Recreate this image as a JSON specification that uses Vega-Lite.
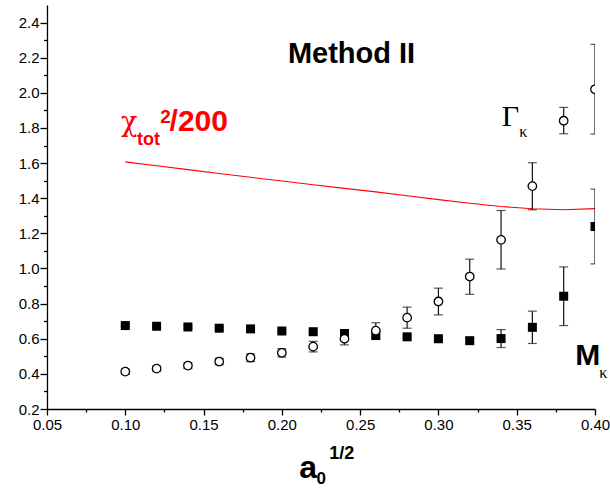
{
  "$schema": "https://vega.github.io/schema/vega-lite/v6.json",
  "width": 548,
  "height": 404,
  "autosize": "none",
  "padding": {"left": 47, "top": 5, "right": 15, "bottom": 79},
  "background": "white",
  "config": {"view": {"stroke": null}},
  "resolve": {"axis": {"x": "independent", "y": "independent"}},
  "datasets": {
    "points": [
      {"x": 0.10, "series": "M", "y": 0.675, "lo": 0.668, "hi": 0.682},
      {"x": 0.12, "series": "M", "y": 0.671, "lo": 0.664, "hi": 0.678},
      {"x": 0.14, "series": "M", "y": 0.667, "lo": 0.660, "hi": 0.674},
      {"x": 0.16, "series": "M", "y": 0.660, "lo": 0.653, "hi": 0.667},
      {"x": 0.18, "series": "M", "y": 0.656, "lo": 0.649, "hi": 0.663},
      {"x": 0.20, "series": "M", "y": 0.644, "lo": 0.637, "hi": 0.651},
      {"x": 0.22, "series": "M", "y": 0.640, "lo": 0.633, "hi": 0.647},
      {"x": 0.24, "series": "M", "y": 0.630, "lo": 0.623, "hi": 0.637},
      {"x": 0.26, "series": "M", "y": 0.618, "lo": 0.611, "hi": 0.625},
      {"x": 0.28, "series": "M", "y": 0.611, "lo": 0.604, "hi": 0.618},
      {"x": 0.30, "series": "M", "y": 0.600, "lo": 0.590, "hi": 0.610},
      {"x": 0.32, "series": "M", "y": 0.589, "lo": 0.578, "hi": 0.600},
      {"x": 0.34, "series": "M", "y": 0.601, "lo": 0.550, "hi": 0.652},
      {"x": 0.36, "series": "M", "y": 0.665, "lo": 0.573, "hi": 0.757},
      {"x": 0.38, "series": "M", "y": 0.842, "lo": 0.675, "hi": 1.009},
      {"x": 0.40, "series": "M", "y": 1.239, "lo": 1.026, "hi": 1.452},
      {"x": 0.10, "series": "Gamma", "y": 0.413, "lo": 0.398, "hi": 0.428},
      {"x": 0.12, "series": "Gamma", "y": 0.430, "lo": 0.415, "hi": 0.445},
      {"x": 0.14, "series": "Gamma", "y": 0.447, "lo": 0.430, "hi": 0.464},
      {"x": 0.16, "series": "Gamma", "y": 0.470, "lo": 0.452, "hi": 0.488},
      {"x": 0.18, "series": "Gamma", "y": 0.492, "lo": 0.470, "hi": 0.514},
      {"x": 0.20, "series": "Gamma", "y": 0.520, "lo": 0.496, "hi": 0.544},
      {"x": 0.22, "series": "Gamma", "y": 0.555, "lo": 0.525, "hi": 0.585},
      {"x": 0.24, "series": "Gamma", "y": 0.600, "lo": 0.565, "hi": 0.635},
      {"x": 0.26, "series": "Gamma", "y": 0.646, "lo": 0.601, "hi": 0.691},
      {"x": 0.28, "series": "Gamma", "y": 0.720, "lo": 0.660, "hi": 0.780},
      {"x": 0.30, "series": "Gamma", "y": 0.812, "lo": 0.736, "hi": 0.888},
      {"x": 0.32, "series": "Gamma", "y": 0.954, "lo": 0.853, "hi": 1.053},
      {"x": 0.34, "series": "Gamma", "y": 1.163, "lo": 0.997, "hi": 1.330},
      {"x": 0.36, "series": "Gamma", "y": 1.469, "lo": 1.334, "hi": 1.602},
      {"x": 0.38, "series": "Gamma", "y": 1.841, "lo": 1.767, "hi": 1.917},
      {"x": 0.40, "series": "Gamma", "y": 2.020, "lo": 1.765, "hi": 2.276}
    ],
    "chi": [
      {"x": 0.10, "y": 1.607},
      {"x": 0.12, "y": 1.585},
      {"x": 0.14, "y": 1.563},
      {"x": 0.16, "y": 1.541},
      {"x": 0.18, "y": 1.519},
      {"x": 0.20, "y": 1.498},
      {"x": 0.22, "y": 1.477},
      {"x": 0.24, "y": 1.456},
      {"x": 0.26, "y": 1.436},
      {"x": 0.28, "y": 1.414},
      {"x": 0.30, "y": 1.392},
      {"x": 0.32, "y": 1.371},
      {"x": 0.34, "y": 1.353},
      {"x": 0.36, "y": 1.340},
      {"x": 0.38, "y": 1.334},
      {"x": 0.40, "y": 1.341}
    ],
    "one": [{}]
  },
  "layer": [
    {
      "data": {"name": "chi"},
      "mark": {"type": "line", "color": "#ff0000", "strokeWidth": 1.1},
      "encoding": {
        "x": {
          "field": "x", "type": "quantitative",
          "scale": {"domain": [0.05, 0.40], "nice": false, "zero": false},
          "axis": {
            "title": null,
            "grid": false,
            "values": [0.05, 0.075, 0.1, 0.125, 0.15, 0.175, 0.2, 0.225, 0.25, 0.275, 0.3, 0.325, 0.35, 0.375, 0.4],
            "labelExpr": "round(datum.value*1000)%50==0 ? format(datum.value,'.2f') : ''",
            "tickSize": {"condition": {"test": "round(datum.value*1000)%50==0", "value": 6}, "value": 3},
            "labelFlush": false,
            "labelOverlap": false,
            "labelFont": "Liberation Sans",
            "labelFontSize": 15,
            "labelColor": "black",
            "labelPadding": 2,
            "domainColor": "black",
            "domainWidth": 1.3,
            "tickColor": "black",
            "tickWidth": 1.3
          }
        },
        "y": {
          "field": "y", "type": "quantitative",
          "scale": {"domain": [0.2, 2.5], "nice": false, "zero": false},
          "axis": {
            "title": null,
            "grid": false,
            "values": [0.2, 0.3, 0.4, 0.5, 0.6, 0.7, 0.8, 0.9, 1.0, 1.1, 1.2, 1.3, 1.4, 1.5, 1.6, 1.7, 1.8, 1.9, 2.0, 2.1, 2.2, 2.3, 2.4],
            "labelExpr": "round(datum.value*10)%2==0 ? format(datum.value,'.1f') : ''",
            "tickSize": {"condition": {"test": "round(datum.value*10)%2==0", "value": 7}, "value": 3.5},
            "labelFlush": false,
            "labelOverlap": false,
            "labelFont": "Liberation Sans",
            "labelFontSize": 15,
            "labelColor": "black",
            "labelPadding": 1,
            "domainColor": "black",
            "domainWidth": 1.3,
            "tickColor": "black",
            "tickWidth": 1.3
          }
        }
      }
    },
    {
      "data": {"name": "points"},
      "mark": {"type": "rule", "color": "#111", "strokeWidth": 1.2, "clip": true},
      "encoding": {
        "x": {"field": "x", "type": "quantitative", "axis": null},
        "y": {"field": "lo", "type": "quantitative", "axis": null},
        "y2": {"field": "hi"}
      }
    },
    {
      "data": {"name": "points"},
      "mark": {"type": "tick", "orient": "horizontal", "size": 9, "thickness": 1.2, "color": "#111", "clip": true},
      "encoding": {
        "x": {"field": "x", "type": "quantitative", "axis": null},
        "y": {"field": "lo", "type": "quantitative", "axis": null}
      }
    },
    {
      "data": {"name": "points"},
      "mark": {"type": "tick", "orient": "horizontal", "size": 9, "thickness": 1.2, "color": "#111", "clip": true},
      "encoding": {
        "x": {"field": "x", "type": "quantitative", "axis": null},
        "y": {"field": "hi", "type": "quantitative", "axis": null}
      }
    },
    {
      "data": {"name": "points"},
      "transform": [{"filter": "datum.series == 'M'"}],
      "mark": {"type": "point", "shape": "square", "filled": true, "color": "black", "size": 81, "opacity": 1, "clip": true},
      "encoding": {
        "x": {"field": "x", "type": "quantitative", "axis": null},
        "y": {"field": "y", "type": "quantitative", "axis": null}
      }
    },
    {
      "data": {"name": "points"},
      "transform": [{"filter": "datum.series == 'Gamma'"}],
      "mark": {"type": "point", "shape": "circle", "filled": false, "fill": "white", "fillOpacity": 1, "stroke": "black", "strokeWidth": 1.3, "size": 72, "opacity": 1, "clip": true},
      "encoding": {
        "x": {"field": "x", "type": "quantitative", "axis": null},
        "y": {"field": "y", "type": "quantitative", "axis": null}
      }
    },
    {
      "data": {"name": "one"},
      "mark": {"type": "text", "text": "Method II", "align": "center", "baseline": "alphabetic", "font": "Liberation Sans", "fontSize": 29, "fontWeight": "bold", "color": "black"},
      "encoding": {"x": {"datum": 0.2445, "axis": null}, "y": {"datum": 2.17, "axis": null}}
    },
    {
      "data": {"name": "one"},
      "mark": {"type": "text", "text": "χ", "align": "left", "baseline": "alphabetic", "font": "DejaVu Serif", "fontSize": 27, "color": "#ff0000"},
      "encoding": {"x": {"datum": 0.0973, "axis": null}, "y": {"datum": 1.78, "axis": null}}
    },
    {
      "data": {"name": "one"},
      "mark": {"type": "text", "text": "tot", "align": "left", "baseline": "alphabetic", "font": "Liberation Sans", "fontSize": 18, "fontWeight": "bold", "color": "#ff0000"},
      "encoding": {"x": {"datum": 0.1075, "axis": null}, "y": {"datum": 1.704, "axis": null}}
    },
    {
      "data": {"name": "one"},
      "mark": {"type": "text", "text": "2", "align": "left", "baseline": "alphabetic", "font": "Liberation Sans", "fontSize": 19, "fontWeight": "bold", "color": "#ff0000"},
      "encoding": {"x": {"datum": 0.1223, "axis": null}, "y": {"datum": 1.83, "axis": null}}
    },
    {
      "data": {"name": "one"},
      "mark": {"type": "text", "text": "/200", "align": "left", "baseline": "alphabetic", "font": "Liberation Sans", "fontSize": 30, "fontWeight": "bold", "color": "#ff0000"},
      "encoding": {"x": {"datum": 0.1283, "axis": null}, "y": {"datum": 1.78, "axis": null}}
    },
    {
      "data": {"name": "one"},
      "mark": {"type": "text", "text": "Γ", "align": "left", "baseline": "alphabetic", "font": "Liberation Serif", "fontSize": 30, "color": "black"},
      "encoding": {"x": {"datum": 0.3405, "axis": null}, "y": {"datum": 1.809, "axis": null}}
    },
    {
      "data": {"name": "one"},
      "mark": {"type": "text", "text": "κ", "align": "left", "baseline": "alphabetic", "font": "Liberation Serif", "fontSize": 16, "color": "black"},
      "encoding": {"x": {"datum": 0.3516, "axis": null}, "y": {"datum": 1.748, "axis": null}}
    },
    {
      "data": {"name": "one"},
      "mark": {"type": "text", "text": "M", "align": "left", "baseline": "alphabetic", "font": "Liberation Sans", "fontSize": 30, "fontWeight": "bold", "color": "black"},
      "encoding": {"x": {"datum": 0.3874, "axis": null}, "y": {"datum": 0.451, "axis": null}}
    },
    {
      "data": {"name": "one"},
      "mark": {"type": "text", "text": "κ", "align": "left", "baseline": "alphabetic", "font": "Liberation Serif", "fontSize": 16, "color": "black"},
      "encoding": {"x": {"datum": 0.4027, "axis": null}, "y": {"datum": 0.377, "axis": null}}
    },
    {
      "data": {"name": "one"},
      "mark": {"type": "text", "text": "a", "align": "left", "baseline": "alphabetic", "font": "Liberation Sans", "fontSize": 32, "fontWeight": "bold", "color": "black"},
      "encoding": {"x": {"datum": 0.2111, "axis": null}, "y": {"datum": -0.193, "axis": null}}
    },
    {
      "data": {"name": "one"},
      "mark": {"type": "text", "text": "0", "align": "left", "baseline": "alphabetic", "font": "Liberation Sans", "fontSize": 17, "fontWeight": "bold", "color": "black"},
      "encoding": {"x": {"datum": 0.2222, "axis": null}, "y": {"datum": -0.228, "axis": null}}
    },
    {
      "data": {"name": "one"},
      "mark": {"type": "text", "text": "1/2", "align": "left", "baseline": "alphabetic", "font": "Liberation Sans", "fontSize": 18, "fontWeight": "bold", "color": "black"},
      "encoding": {"x": {"datum": 0.2303, "axis": null}, "y": {"datum": -0.085, "axis": null}}
    }
  ]
}
